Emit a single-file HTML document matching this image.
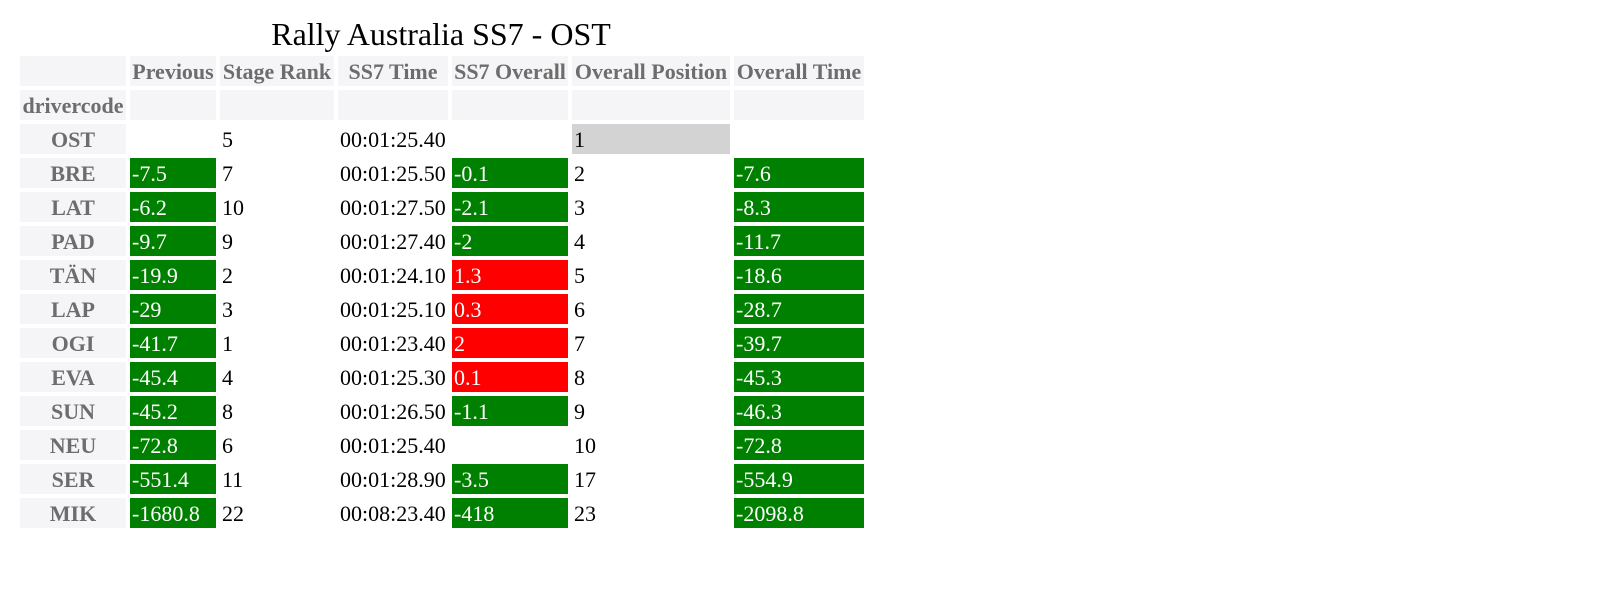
<!DOCTYPE html>
<html><head><meta charset="utf-8">
<style>
body{margin:0;width:1600px;height:594px;background:#fff;position:relative;overflow:hidden;font-family:"Liberation Serif",serif;}
.c{position:absolute;height:30px;line-height:31px;font-size:22px;white-space:nowrap;box-sizing:border-box;padding-left:2px;color:#000;}
.h{background:#f5f5f7;color:#6d6d6d;font-weight:bold;text-align:center;padding-left:0;}
.g{background:#008000;color:#fff;}
.r{background:#ff0000;color:#fff;}
.gr{background:#d3d3d3;}
#title{position:absolute;left:0;width:882px;text-align:center;top:16px;font-size:32px;line-height:36px;}
</style></head><body>
<div id="title">Rally Australia SS7 - OST</div>
<div id="tbl"></div>
<script>
const columns=["Previous","Stage Rank","SS7 Time","SS7 Overall","Overall Position","Overall Time"];
const drivers=["OST","BRE","LAT","PAD","TÄN","LAP","OGI","EVA","SUN","NEU","SER","MIK"];
const previous=[null,-7.5,-6.2,-9.7,-19.9,-29,-41.7,-45.4,-45.2,-72.8,-551.4,-1680.8];
const stageRank=[5,7,10,9,2,3,1,4,8,6,11,22];
const ss7Time=["00:01:25.40","00:01:25.50","00:01:27.50","00:01:27.40","00:01:24.10","00:01:25.10","00:01:23.40","00:01:25.30","00:01:26.50","00:01:25.40","00:01:28.90","00:08:23.40"];
const ss7Overall=[null,-0.1,-2.1,-2,1.3,0.3,2,0.1,-1.1,null,-3.5,-418];
const overallPos=[1,2,3,4,5,6,7,8,9,10,17,23];
const overallTime=[null,-7.6,-8.3,-11.7,-18.6,-28.7,-39.7,-45.3,-46.3,-72.8,-554.9,-2098.8];

const colX=[20,130,220,338,452,572,734];
const colW=[106,86,114,110,116,158,130];
const tbl=document.getElementById('tbl');
function cell(ci,top,text,cls,name){
  const d=document.createElement('div');
  d.className='c '+cls;
  d.style.left=colX[ci]+'px';d.style.top=top+'px';d.style.width=colW[ci]+'px';
  d.textContent=text;
  
  
  tbl.appendChild(d);
}
function sign(v){return v===null?'':(v<0?'g':(v>0?'r':''));}
function fmt(v){return v===null?'':String(v);}
cell(0,56,'','h','header-blank');
columns.forEach((c,i)=>cell(i+1,56,c,'h','column-header'));
cell(0,90,'drivercode','h','index-name');
columns.forEach((c,i)=>cell(i+1,90,'','h','index-blank'));
drivers.forEach((d,i)=>{
  const t=124+34*i;
  cell(0,t,d,'h','driver-code');
  cell(1,t,fmt(previous[i]),sign(previous[i]),'previous-cell');
  cell(2,t,String(stageRank[i]),'','stage-rank-cell');
  cell(3,t,ss7Time[i],'','ss7-time-cell');
  cell(4,t,fmt(ss7Overall[i]),sign(ss7Overall[i]),'ss7-overall-cell');
  cell(5,t,String(overallPos[i]),overallPos[i]===1?'gr':'','overall-position-cell');
  cell(6,t,fmt(overallTime[i]),sign(overallTime[i]),'overall-time-cell');
});
</script>
</body></html>
